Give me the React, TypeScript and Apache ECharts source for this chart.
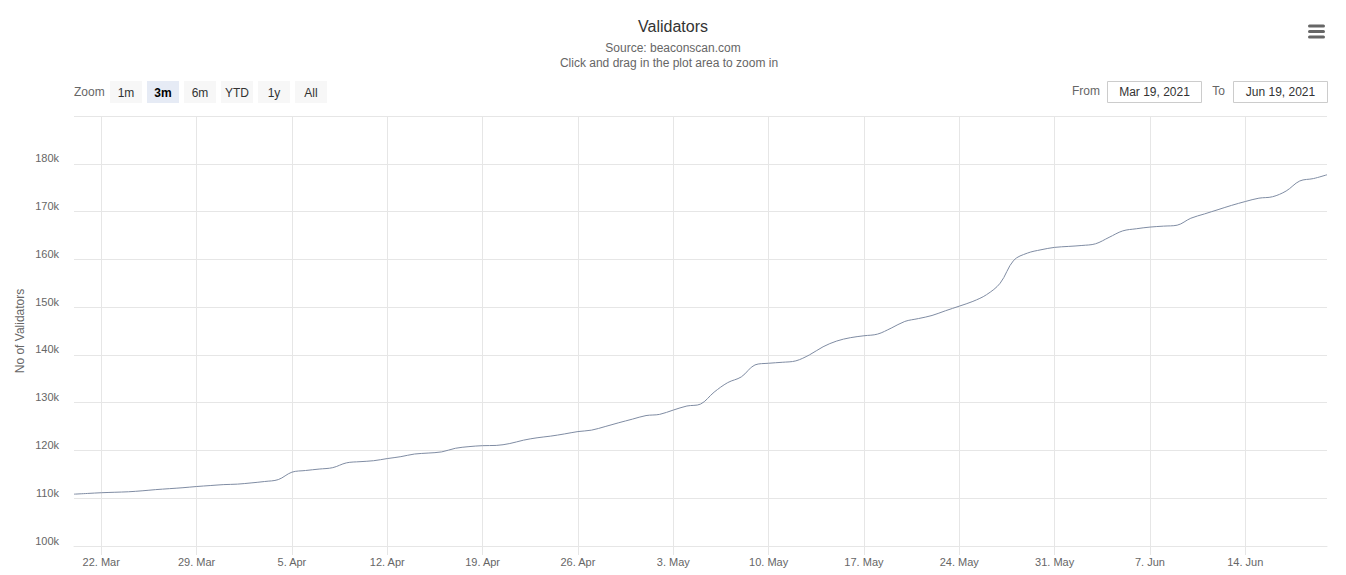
import React, { useEffect, useRef } from "react";
import * as echarts from "echarts";

// Daily number of validators, starting 20 Mar 2021
const START_DATE = Date.UTC(2021, 2, 20);
const MONTHS = ["Jan", "Feb", "Mar", "Apr", "May", "Jun", "Jul", "Aug", "Sep", "Oct", "Nov", "Dec"];

const validators: number[] = [
  110850, 111000, 111150, 111250, 111350, 111550, 111800, 112000, 112200, 112450,
  112650, 112850, 112950, 113200, 113500, 113900, 115450, 115800, 116100, 116400,
  117400, 117650, 117850, 118300, 118700, 119250, 119450, 119700, 120450, 120800,
  121000, 121050, 121450, 122150, 122650, 123000, 123450, 123950, 124250, 125000,
  125800, 126550, 127300, 127550, 128450, 129300, 129700, 132200, 134200, 135400,
  137900, 138250, 138450, 138750, 140000, 141700, 142900, 143600, 144000, 144350,
  145600, 147000, 147600, 148250, 149250, 150200, 151200, 152600, 155000, 159800,
  161300, 162000, 162500, 162700, 162900, 163250, 164600, 165950, 166400, 166750,
  166950, 167150, 168600, 169500, 170400, 171300, 172100, 172800, 173100, 174300,
  176400, 176900, 177700,
];

const categories: string[] = validators.map((_, i) => {
  const d = new Date(START_DATE + i * 86400000);
  return `${d.getUTCDate()}. ${MONTHS[d.getUTCMonth()]}`;
});

const tickLabels: string[] = [
  "22. Mar", "29. Mar", "5. Apr", "12. Apr", "19. Apr", "26. Apr", "3. May",
  "10. May", "17. May", "24. May", "31. May", "7. Jun", "14. Jun",
];

const zoomButtons: string[] = ["1m", "3m", "6m", "YTD", "1y", "All"];
const selectedZoom = "3m";
const fromLabel = "Mar 19, 2021";
const toLabel = "Jun 19, 2021";

const FONT = '"Liberation Sans", Arial, Helvetica, sans-serif';

export default function App() {
  const ref = useRef<HTMLDivElement>(null);

  useEffect(() => {
    if (!ref.current) return;
    const chart = echarts.init(ref.current, undefined, { renderer: "svg" });

    const showTick = (_i: number, v: string) => tickLabels.includes(v);

    const graphics: any[] = [
      {
        type: "text", x: 673, y: 26,
        style: { text: "Validators", fill: "#333333", font: `16px ${FONT}`, textAlign: "center", textVerticalAlign: "middle" },
      },
      {
        type: "text", x: 673, y: 48,
        style: { text: "Source: beaconscan.com", fill: "#666666", font: `12px ${FONT}`, textAlign: "center", textVerticalAlign: "middle" },
      },
      {
        type: "text", x: 669, y: 63,
        style: { text: "Click and drag in the plot area to zoom in", fill: "#666666", font: `12px ${FONT}`, textAlign: "center", textVerticalAlign: "middle" },
      },
      {
        type: "text", x: 74, y: 92,
        style: { text: "Zoom", fill: "#666666", font: `12px ${FONT}`, textAlign: "left", textVerticalAlign: "middle" },
      },
      // hamburger menu
      ...[26, 31.5, 37].map((y) => ({
        type: "line",
        shape: { x1: 1309.5, y1: y, x2: 1323.5, y2: y },
        style: { stroke: "#666666", lineWidth: 3, lineCap: "round" },
      })),
      {
        type: "text", x: 1100, y: 91,
        style: { text: "From", fill: "#666666", font: `12px ${FONT}`, textAlign: "right", textVerticalAlign: "middle" },
      },
      {
        type: "rect", shape: { x: 1107.5, y: 81.5, width: 94, height: 21 },
        style: { fill: "#ffffff", stroke: "#cccccc", lineWidth: 1 },
      },
      {
        type: "text", x: 1154.5, y: 91.5,
        style: { text: fromLabel, fill: "#333333", font: `12px ${FONT}`, textAlign: "center", textVerticalAlign: "middle" },
      },
      {
        type: "text", x: 1225, y: 91,
        style: { text: "To", fill: "#666666", font: `12px ${FONT}`, textAlign: "right", textVerticalAlign: "middle" },
      },
      {
        type: "rect", shape: { x: 1233.5, y: 81.5, width: 94, height: 21 },
        style: { fill: "#ffffff", stroke: "#cccccc", lineWidth: 1 },
      },
      {
        type: "text", x: 1280.5, y: 91.5,
        style: { text: toLabel, fill: "#333333", font: `12px ${FONT}`, textAlign: "center", textVerticalAlign: "middle" },
      },
    ];

    zoomButtons.forEach((label, i) => {
      const x = 110 + i * 37;
      const sel = label === selectedZoom;
      graphics.push({
        type: "rect",
        shape: { x, y: 81, width: 32, height: 22 },
        style: { fill: sel ? "#e6ebf5" : "#f7f7f7" },
      });
      graphics.push({
        type: "text", x: x + 16, y: 92.5,
        style: {
          text: label, fill: sel ? "#000000" : "#333333",
          font: `${sel ? "bold " : ""}12px ${FONT}`, textAlign: "center", textVerticalAlign: "middle",
        },
      });
    });

    chart.setOption({
      animation: false,
      backgroundColor: "#ffffff",
      textStyle: { fontFamily: FONT },
      grid: { left: 74, right: 19, top: 116, bottom: 29, containLabel: false },
      xAxis: {
        type: "category",
        data: categories,
        boundaryGap: false,
        axisLine: { show: true, lineStyle: { color: "#e6e6e6" } },
        axisTick: { show: true, interval: showTick, length: 9, lineStyle: { color: "#e6e6e6" } },
        axisLabel: { interval: showTick, color: "#666666", fontSize: 11, margin: 10, fontFamily: FONT },
        splitLine: { show: true, interval: showTick, lineStyle: { color: "#e6e6e6", width: 1 } },
      },
      yAxis: {
        type: "value",
        min: 100000,
        max: 190000,
        interval: 10000,
        name: "No of Validators",
        nameLocation: "middle",
        nameGap: 48,
        nameMoveOverlap: false,
        nameTextStyle: { color: "#666666", fontSize: 12, fontFamily: FONT },
        axisLine: { show: false },
        axisTick: { show: false },
        axisLabel: {
          color: "#666666", fontSize: 11, margin: 15, fontFamily: FONT,
          verticalAlign: "bottom",
          formatter: (v: number) => (v >= 190000 ? "" : `${v / 1000}k`),
        },
        splitLine: { lineStyle: { color: "#e6e6e6", width: 1 } },
      },
      series: [
        {
          type: "line",
          data: validators,
          smooth: 0.35,
          showSymbol: false,
          symbol: "none",
          lineStyle: { color: "#7f8ca3", width: 1 },
          itemStyle: { color: "#7f8ca3" },
        },
      ],
      graphic: graphics,
    });

    return () => chart.dispose();
  }, []);

  return (
    <div
      ref={ref}
      style={{ position: "absolute", left: 0, top: 0, width: 1346, height: 575 }}
    />
  );
}
